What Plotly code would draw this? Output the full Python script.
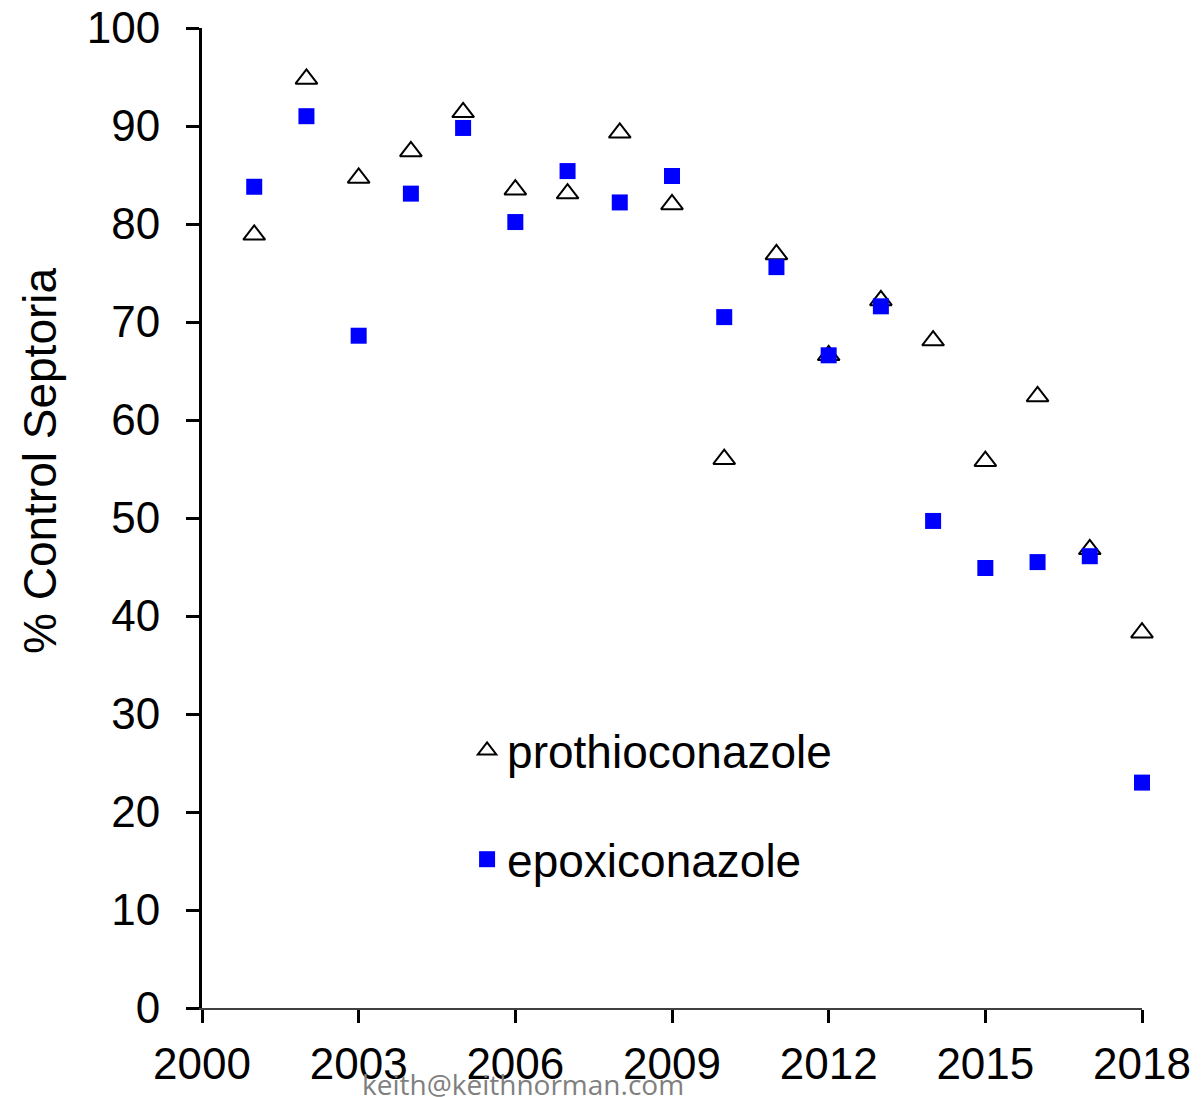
import plotly.graph_objects as go

years = list(range(2001, 2019))
prothioconazole = [78.9, 94.8, 84.7, 87.4, 91.4, 83.5, 83.1, 89.3, 82.0,
                   56.0, 76.9, 66.6, 72.2, 68.1, 55.8, 62.4, 46.8, 38.3]
epoxiconazole = [83.8, 91.0, 68.6, 83.1, 89.8, 80.2, 85.4, 82.2, 84.9,
                 70.5, 75.6, 66.6, 71.6, 49.7, 44.9, 45.5, 46.1, 23.0]

x_ticks = [2000, 2003, 2006, 2009, 2012, 2015, 2018]
y_ticks = list(range(0, 101, 10))

FONT = "Liberation Sans, Arial, sans-serif"
BLUE = "#0000ff"

# the page body adds an 8px offset, so margins are shifted to compensate
OFF = 8

fig = go.Figure()
fig.add_trace(go.Scatter(
    x=years, y=prothioconazole, mode="markers", name="prothioconazole",
    legendgroup="a", cliponaxis=False,
    marker=dict(symbol="triangle-up-open", size=19, color="black", line=dict(width=2, color="black")),
))
fig.add_trace(go.Scatter(
    x=years, y=epoxiconazole, mode="markers", name="epoxiconazole",
    legendgroup="b", cliponaxis=False,
    marker=dict(symbol="square", size=16, color=BLUE, line=dict(width=0)),
))

fig.update_layout(
    width=1202, height=1097,
    paper_bgcolor="white", plot_bgcolor="white",
    margin=dict(l=202 - OFF, r=60 + OFF, t=28 - OFF, b=89 + OFF, autoexpand=False),
    font=dict(family=FONT, color="black", size=44),
    legend=dict(
        x=0.282, y=0.3, xanchor="left", yanchor="top",
        font=dict(size=46, family=FONT), tracegroupgap=46,
        bgcolor="rgba(0,0,0,0)", itemsizing="trace",
    ),
    showlegend=True,
)
fig.update_xaxes(
    range=[2000, 2018], tickvals=x_ticks, ticktext=[str(v) for v in x_ticks],
    showgrid=False, zeroline=False, automargin=False, ticklabeloverflow="allow",
    showline=True, linecolor="#404040", linewidth=2,
    ticks="outside", ticklen=13, tickwidth=3, tickcolor="black",
    ticklabelstandoff=3, tickfont=dict(size=44),
)
fig.update_yaxes(
    range=[0, 100], tickvals=y_ticks,
    showgrid=False, zeroline=False, automargin=False, ticklabeloverflow="allow",
    showline=True, linecolor="black", linewidth=3,
    ticks="outside", ticklen=13, tickwidth=3, tickcolor="black",
    ticklabelstandoff=17, tickfont=dict(size=44),
)

plot_w = 1202 - 202 - 60
plot_h = 1097 - 28 - 89

fig.add_annotation(
    x=(40 - 202) / plot_w, xref="paper", xanchor="center",
    y=(1008 - 461) / plot_h, yref="paper", yanchor="middle",
    text="% Control Septoria", textangle=-90, showarrow=False,
    font=dict(size=46, family=FONT),
)
fig.add_annotation(
    x=(523 - 202) / plot_w, xref="paper", xanchor="center",
    y=(1008 - 1084) / plot_h, yref="paper", yanchor="middle",
    text="keith@keithnorman.com", showarrow=False,
    font=dict(size=28, family="Open Sans, sans-serif", color="#808080"),
)

fig.write_html("out.html")
